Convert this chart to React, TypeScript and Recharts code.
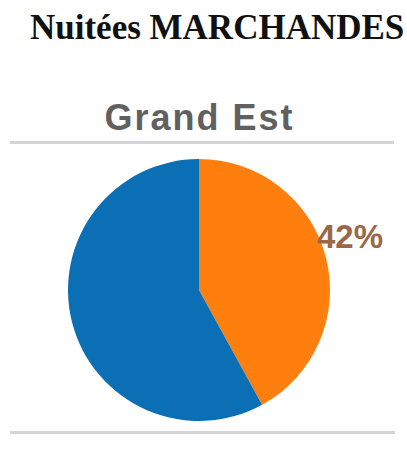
import React from "react";
import { PieChart, Pie, Cell } from "recharts";

const categories = ["Marchandes", "Autres"];
const values = [42, 58];
const colors = ["#ff7f0e", "#0b6fb5"];
const title = "Nuitées MARCHANDES";
const subtitle = "Grand Est";

const data = categories.map((name, i) => ({ name, value: values[i] }));
const total = values.reduce((a, b) => a + b, 0);

const renderLabel = (props: any) => {
  const { cx, cy, outerRadius, index, value } = props;
  if (index !== 0) return null;
  return (
    <text
      x={cx + outerRadius - 13}
      y={cy - outerRadius * 0.41}
      fill="#9a6845"
      fontFamily="Liberation Sans, Arial, sans-serif"
      fontWeight="bold"
      fontSize={33}
      textAnchor="start"
      dominantBaseline="central"
    >
      {Math.round((value / total) * 100)}%
    </text>
  );
};

export default function App() {
  return (
    <div style={{ position: "absolute", left: 0, top: 0, width: 407, height: 449, background: "#fff", overflow: "hidden" }}>
      <div
        style={{
          position: "absolute",
          left: 30,
          top: 8,
          width: 374,
          textAlign: "center",
          fontFamily: "Liberation Serif, serif",
          fontWeight: "bold",
          fontSize: 35,
          color: "#111",
          whiteSpace: "nowrap",
          lineHeight: "40px",
        }}
      >
        {title}
      </div>
      <div
        style={{
          position: "absolute",
          left: 0,
          top: 96,
          width: 399,
          textAlign: "center",
          fontFamily: "Liberation Sans, Arial, sans-serif",
          fontWeight: "bold",
          fontSize: 36,
          letterSpacing: 2,
          color: "#606060",
          lineHeight: "44px",
        }}
      >
        {subtitle}
      </div>
      <div style={{ position: "absolute", left: 10, top: 141, width: 384, height: 3, background: "#d4d4d4" }} />
      <div style={{ position: "absolute", left: 10, top: 431, width: 385, height: 3, background: "#d4d4d4" }} />
      <div style={{ position: "absolute", left: 0, top: 150 }}>
        <PieChart width={400} height={280}>
          <Pie
            data={data}
            dataKey="value"
            cx={194}
            cy={135}
            outerRadius={131}
            startAngle={90}
            endAngle={-270}
            stroke="none"
            label={renderLabel}
            labelLine={false}
            isAnimationActive={false}
          >
            {data.map((d, i) => (
              <Cell key={d.name} fill={colors[i]} />
            ))}
          </Pie>
        </PieChart>
      </div>
    </div>
  );
}
